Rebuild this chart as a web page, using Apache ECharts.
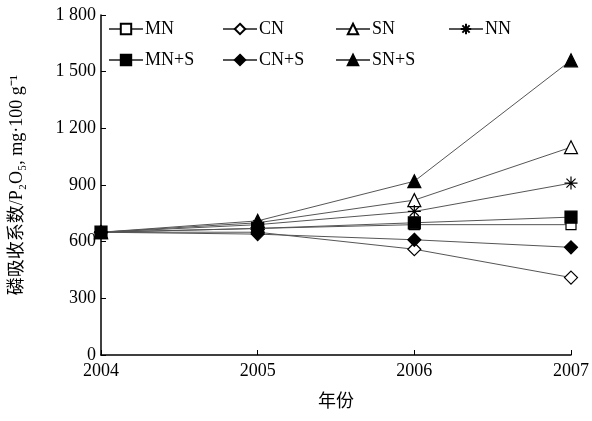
<!DOCTYPE html>
<html lang="zh">
<head>
<meta charset="UTF-8">
<title>磷吸收系数</title>
<script src="https://cdn.jsdelivr.net/npm/echarts@6/dist/echarts.min.js"></script>
<style>
  html, body { margin: 0; padding: 0; background: #fff; }
  #box { width: 592px; height: 421px; }
</style>
</head>
<body>
<div id="box"></div>
<script>
// 年份
var years = ['2004', '2005', '2006', '2007'];
// 各处理的磷吸收系数
var mn   = [650, 670, 690, 690];
var cn   = [650, 650, 560, 410];
var sn   = [650, 700, 820, 1100];
var nn   = [650, 690, 760, 910];
var mnS  = [650, 670, 700, 730];
var cnS  = [650, 640, 610, 570];
var snS  = [650, 710, 920, 1560];
var yTicks = [0, 300, 600, 900, 1200, 1500, 1800];

var font = '"Liberation Serif", "Times New Roman", "Noto Sans CJK SC", serif';
var star = 'path://M0,-10L0,10M-10,0L10,0M-7,-7L7,7M-7,7L7,-7';

function line(name, data, symbol, filled, size) {
    return {
        name: name,
        type: 'line',
        data: data,
        symbol: symbol,
        symbolSize: size,
        showSymbol: true,
        lineStyle: { color: '#555', width: 1 },
        itemStyle: {
            color: filled ? '#000' : '#fff',
            borderColor: '#000',
            borderWidth: 1.2
        },
        z: filled ? 3 : 2
    };
}

var myChart = echarts.init(document.getElementById('box'));

// 图例按列摆放，每列两行
function legendCol(names, left) {
    return {
        data: names,
        orient: 'vertical',
        left: left, top: 20,
        itemWidth: 34, itemHeight: 13, itemGap: 13,
        padding: 0,
        textStyle: { fontFamily: font, fontSize: 18, color: '#000', padding: [0, 0, 0, -3] }
    };
}

var option = {
    animation: false,
    textStyle: { fontFamily: font },
    grid: { left: 93, right: 20, top: 15, bottom: 66 },
    legend: [
        legendCol(['MN', 'MN+S'], 108),
        legendCol(['CN', 'CN+S'], 222),
        legendCol(['SN', 'SN+S'], 335),
        legendCol(['NN'], 448)
    ],
    xAxis: {
        type: 'category',
        data: years,
        boundaryGap: false,
        name: '年份',
        nameLocation: 'middle',
        nameGap: 38,
        nameTextStyle: { fontFamily: font, fontSize: 18, color: '#000' },
        axisLine: { lineStyle: { color: '#000', width: 1.5 } },
        axisTick: { inside: true, length: 5, lineStyle: { color: '#000' } },
        axisLabel: { fontFamily: font, fontSize: 18, color: '#000', margin: 7 },
        splitLine: { show: false }
    },
    yAxis: {
        type: 'value',
        min: 0, max: 1800, interval: 300,
        name: '磷吸收系数/P₂O₅, mg·100 g⁻¹',
        nameLocation: 'middle',
        nameRotate: 90,
        nameGap: 75,
        nameTextStyle: { fontFamily: font, fontSize: 18, color: '#000' },
        axisLine: { show: true, lineStyle: { color: '#000', width: 1.5 } },
        axisTick: { show: true, inside: true, length: 5, lineStyle: { color: '#000' } },
        axisLabel: {
            fontFamily: font, fontSize: 18, color: '#000', margin: 5,
            formatter: function (v) {
                return yTicks.indexOf(v) >= 0 && v >= 1000
                    ? Math.floor(v / 1000) + ' ' + String(v % 1000).padStart(3, '0')
                    : String(v);
            }
        },
        splitLine: { show: false }
    },
    series: [
        line('MN', mn, 'rect', false, 10),
        line('CN', cn, 'diamond', false, 13),
        line('SN', sn, 'triangle', false, 13),
        line('NN', nn, star, false, 13),
        line('MN+S', mnS, 'rect', true, 12),
        line('CN+S', cnS, 'diamond', true, 13),
        line('SN+S', snS, 'triangle', true, 13)
    ]
};

myChart.setOption(option);
</script>
</body>
</html>
